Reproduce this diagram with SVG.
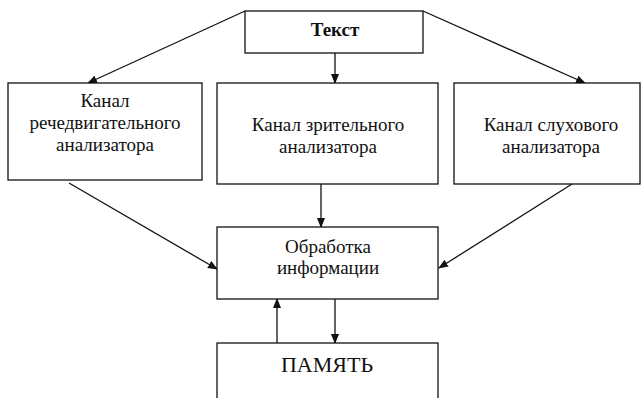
<svg xmlns="http://www.w3.org/2000/svg" width="642" height="398" viewBox="0 0 642 398">
<defs>
<marker id="ah" markerWidth="10" markerHeight="8" refX="9" refY="4" orient="auto" markerUnits="userSpaceOnUse">
<path d="M0,0 L10,4 L0,8 Z" fill="#111"/>
</marker>
<style>
.box{fill:#fff;stroke:#111;stroke-width:1.3}
.t{font-family:'Liberation Serif','DejaVu Serif',serif;font-size:19px;fill:#111;text-anchor:middle}
.big{font-size:22px}
.c{stroke:#111;stroke-width:1.3;fill:none}
</style>
</defs>
<rect width="642" height="398" fill="#fff"/>
<g id="connectors">
<line class="c" x1="245" y1="11" x2="88" y2="83" marker-end="url(#ah)"/>
<line class="c" x1="423" y1="11" x2="585" y2="83" marker-end="url(#ah)"/>
<line class="c" x1="335" y1="53" x2="335" y2="83" marker-end="url(#ah)"/>
<line class="c" x1="69" y1="183" x2="217" y2="269" marker-end="url(#ah)"/>
<line class="c" x1="321" y1="184" x2="321" y2="227" marker-end="url(#ah)"/>
<line class="c" x1="572" y1="184" x2="439" y2="268" marker-end="url(#ah)"/>
<line class="c" x1="335" y1="299" x2="335" y2="343" marker-end="url(#ah)"/>
<line class="c" x1="277" y1="343" x2="277" y2="299" marker-end="url(#ah)"/>
</g>
<g id="text-node">
<rect class="box" x="245" y="11" width="178" height="42"/>
<text class="t" x="335" y="36" font-weight="bold">Текст</text>
</g>
<g id="speech-channel">
<rect class="box" x="8" y="83" width="194" height="97"/>
<text class="t" x="105" y="107">Канал</text>
<text class="t" x="105" y="129">речедвигательного</text>
<text class="t" x="105" y="151">анализатора</text>
</g>
<g id="visual-channel">
<rect class="box" x="217" y="83" width="221" height="101"/>
<text class="t" x="328" y="131">Канал зрительного</text>
<text class="t" x="328" y="153">анализатора</text>
</g>
<g id="auditory-channel">
<rect class="box" x="454" y="83" width="186" height="101"/>
<text class="t" x="551" y="131">Канал слухового</text>
<text class="t" x="551" y="153">анализатора</text>
</g>
<g id="processing">
<rect class="box" x="217" y="227" width="221" height="72"/>
<text class="t" x="328" y="253">Обработка</text>
<text class="t" x="328" y="274">информации</text>
</g>
<g id="memory">
<rect class="box" x="217" y="343" width="221" height="70"/>
<text class="t big" x="327" y="372">ПАМЯТЬ</text>
</g>
</svg>
